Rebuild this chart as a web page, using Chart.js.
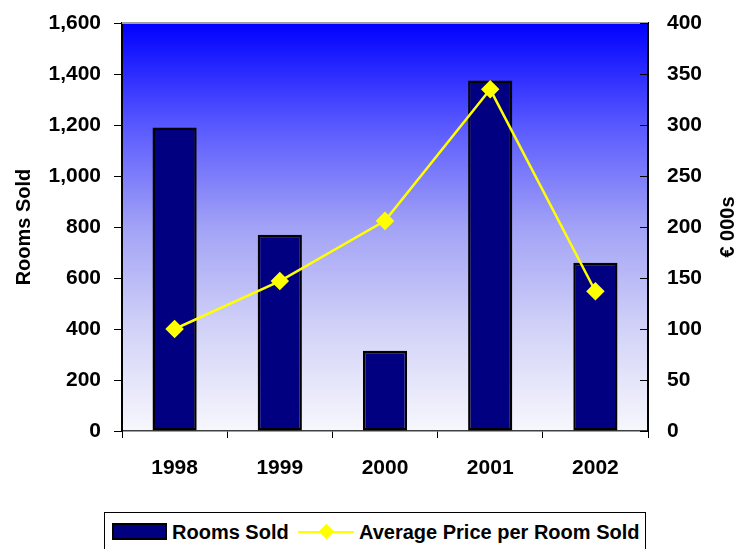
<!DOCTYPE html>
<html>
<head>
<meta charset="utf-8">
<script src="https://cdn.jsdelivr.net/npm/chart.js@4/dist/chart.umd.min.js"></script>
<style>
  html, body { margin: 0; padding: 0; background: #ffffff; }
  #wrap { position: relative; width: 741px; height: 549px; overflow: hidden; font-family: "Liberation Sans", Arial, sans-serif; font-weight: bold; }
  #c { position: absolute; left: 0; top: 0; }
  #legend { position: absolute; left: 104px; top: 512px; width: 542px; height: 50px; border: 1px solid #000; box-sizing: border-box; background: #fff; }
  .sw { position: absolute; left: 7px; top: 10px; width: 55px; height: 17px; background: #000080; border: 2px solid #000; box-sizing: border-box; }
  .lt { position: absolute; font-size: 20px; line-height: 20px; top: 9px; color: #000; white-space: nowrap; }
  .ln { position: absolute; left: 193px; top: 18px; width: 56px; height: 2px; background: #ffff00; }
  .dm { position: absolute; left: 216px; top: 13px; width: 11px; height: 11px; background: #ffff00; transform: rotate(45deg); }
</style>
</head>
<body>
<div id="wrap">
  <canvas id="c" width="741" height="549"></canvas>
  <div id="legend">
    <div class="sw"></div>
    <div class="lt" id="lt1" style="left:67px"></div>
    <div class="ln"></div>
    <div class="dm"></div>
    <div class="lt" id="lt2" style="left:254px"></div>
  </div>
</div>
<script>
const years = ["1998", "1999", "2000", "2001", "2002"];
const roomsSold = [1190, 770, 315, 1375, 660];
const avgPrice = [100, 147, 206, 335, 137];
const leftTicks = [0, 200, 400, 600, 800, 1000, 1200, 1400, 1600];
const rightTicks = [0, 50, 100, 150, 200, 250, 300, 350, 400];
const seriesNames = ["Rooms Sold", "Average Price per Room Sold"];
const leftTitle = "Rooms Sold";
const rightTitle = "€ 000s";

document.getElementById("lt1").textContent = seriesNames[0];
document.getElementById("lt2").textContent = seriesNames[1];

const FONT = "Liberation Sans, Arial, sans-serif";

const decor = {
  id: "decor",
  beforeDraw(chart) {
    const { ctx, chartArea: a } = chart;
    const g = ctx.createLinearGradient(0, a.top, 0, a.bottom);
    g.addColorStop(0, "#0000ff");
    g.addColorStop(0.25, "#5858ff");
    g.addColorStop(0.5, "#a2a2f6");
    g.addColorStop(0.75, "#d2d2f8");
    g.addColorStop(1, "#f7f7fd");
    ctx.save();
    ctx.fillStyle = g;
    ctx.fillRect(a.left, a.top, a.right - a.left, a.bottom - a.top);
    ctx.restore();
  },
  afterDraw(chart) {
    const { ctx, chartArea: a } = chart;
    ctx.save();
    ctx.strokeStyle = "#a0a0a0";
    ctx.lineWidth = 2;
    ctx.beginPath();
    ctx.moveTo(a.left, a.top);
    ctx.lineTo(a.right, a.top);
    ctx.stroke();
    const yr = chart.scales.yR;
    ctx.strokeStyle = "#000";
    ctx.lineWidth = 1;
    yr.ticks.forEach(t => {
      const y = Math.round(yr.getPixelForValue(t.value)) + 0.5;
      ctx.beginPath();
      ctx.moveTo(a.right - 8, y);
      ctx.lineTo(a.right, y);
      ctx.stroke();
    });
    ctx.fillStyle = "#000";
    ctx.font = "bold 20px " + FONT;
    ctx.textAlign = "center";
    ctx.textBaseline = "middle";
    const cy = (a.top + a.bottom) / 2;
    ctx.translate(24, cy);
    ctx.rotate(-Math.PI / 2);
    ctx.fillText(leftTitle, 0, 0);
    ctx.setTransform(1, 0, 0, 1, 0, 0);
    ctx.translate(728, cy);
    ctx.rotate(-Math.PI / 2);
    ctx.fillText(rightTitle, 0, 0);
    ctx.restore();
  }
};

function noPad(s) { s.paddingTop = 0; s.paddingBottom = 0; }

new Chart(document.getElementById("c"), {
  type: "bar",
  data: {
    labels: years,
    datasets: [
      {
        type: "line",
        label: seriesNames[1],
        data: avgPrice,
        yAxisID: "yR",
        borderColor: "#ffff00",
        backgroundColor: "#ffff00",
        borderWidth: 2.5,
        pointStyle: "rectRot",
        pointRadius: 7.5,
        pointBorderColor: "#ffff00",
        pointBackgroundColor: "#ffff00",
        tension: 0,
        order: 0
      },
      {
        type: "bar",
        label: seriesNames[0],
        data: roomsSold,
        yAxisID: "yL",
        backgroundColor: "#000080",
        borderColor: "#000000",
        borderWidth: 2.5,
        borderSkipped: false,
        categoryPercentage: 1,
        barPercentage: 0.42,
        order: 1
      }
    ]
  },
  options: {
    responsive: false,
    animation: false,
    devicePixelRatio: 1,
    layout: { padding: { top: 23, left: 0, right: 0, bottom: 58 } },
    plugins: { legend: { display: false }, tooltip: { enabled: false } },
    scales: {
      x: {
        offset: true,
        afterFit(s) { s.height = 60; s.paddingLeft = 0; s.paddingRight = 0; },
        grid: { offset: true, drawOnChartArea: false, color: "#000", tickLength: 7 },
        border: { color: "#404040", width: 1.5 },
        ticks: { color: "#000", font: { family: FONT, size: 21, weight: "bold" }, padding: 18, maxRotation: 0 }
      },
      yL: {
        position: "left",
        min: 0, max: 1600,
        afterFit(s) { s.width = 122; noPad(s); },
        afterBuildTicks(s) { s.ticks = leftTicks.map(v => ({ value: v })); },
        grid: { drawOnChartArea: false, color: "#000", tickLength: 8 },
        border: { color: "#000", width: 2 },
        ticks: {
          color: "#000", padding: 13,
          font: { family: FONT, size: 21, weight: "bold" },
          callback: v => v.toLocaleString("en-US")
        }
      },
      yR: {
        position: "right",
        min: 0, max: 400,
        afterFit(s) { s.width = 93; noPad(s); },
        afterBuildTicks(s) { s.ticks = rightTicks.map(v => ({ value: v })); },
        grid: { drawOnChartArea: false, drawTicks: false },
        border: { color: "#000", width: 2 },
        ticks: {
          color: "#000", padding: 19,
          font: { family: FONT, size: 21, weight: "bold" }
        }
      }
    }
  },
  plugins: [decor]
});
</script>
</body>
</html>
